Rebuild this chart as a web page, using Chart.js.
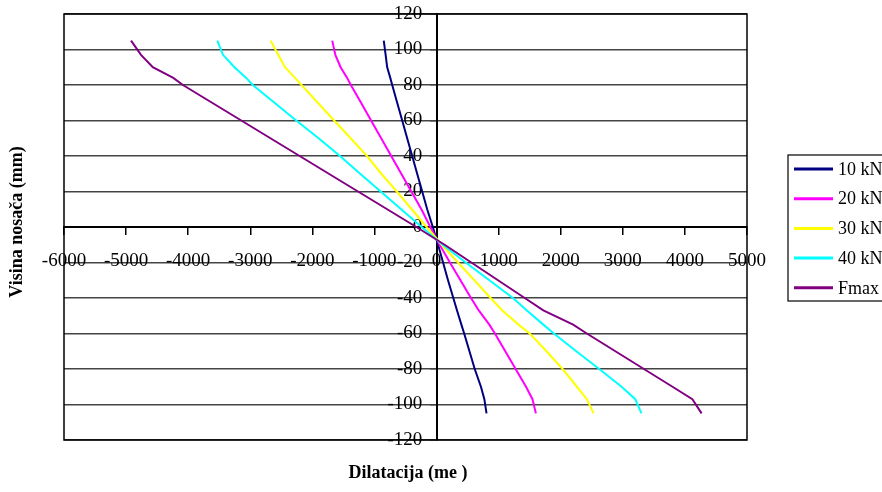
<!DOCTYPE html>
<html>
<head>
<meta charset="utf-8">
<script src="https://cdn.jsdelivr.net/npm/chart.js@4/dist/chart.umd.min.js"></script>
<style>
  body { margin: 0; background: #fff; overflow: hidden; }
  canvas { display: block; }
</style>
</head>
<body>
<canvas id="c" width="882" height="492"></canvas>
<script>
// visina nosaca (mm) - ista za sve serije
const visina = [105, 97, 90, 84, 80, 70, 60, 50, 40, 30, 20, 10, 0, -10, -20, -30, -40, -47, -55, -60, -70, -80, -90, -97, -105];

// dilatacije po seriji
const dil10kN = [-850, -820, -795, -745, -714, -634, -553, -473, -392, -312, -231, -151, -60, 25, 105, 185, 270, 330, 400, 445, 530, 615, 715, 770, 805];
const dil20kN = [-1680, -1630, -1545, -1440, -1380, -1216, -1054, -892, -730, -568, -406, -244, -100, 50, 215, 385, 555, 680, 850, 940, 1107, 1274, 1441, 1545, 1600];
const dil30kN = [-2672, -2550, -2440, -2280, -2175, -1912, -1650, -1384, -1120, -890, -640, -400, -160, 85, 345, 610, 870, 1060, 1320, 1500, 1770, 2030, 2260, 2420, 2530];
const dil40kN = [-3531, -3440, -3255, -3065, -2960, -2610, -2260, -1900, -1556, -1230, -900, -570, -240, 100, 470, 850, 1230, 1455, 1720, 1890, 2250, 2620, 2980, 3200, 3300];
const dilFmax = [-4920, -4760, -4570, -4240, -4085, -3615, -3145, -2675, -2205, -1735, -1265, -795, -325, 130, 560, 990, 1420, 1720, 2200, 2420, 2880, 3340, 3800, 4120, 4269];

const serije = ['10 kN', '20 kN', '30 kN', '40 kN', 'Fmax'];
const boje = ['#000080', '#FF00FF', '#FFFF00', '#00FFFF', '#800080'];
const vrijednosti = [dil10kN, dil20kN, dil30kN, dil40kN, dilFmax];

const FONT = 'Liberation Serif, Times New Roman, serif';

const okvir = {
  id: 'okvir',
  afterDraw(chart) {
    const ctx = chart.ctx;
    const a = chart.chartArea;
    ctx.save();
    ctx.strokeStyle = '#000';
    ctx.lineWidth = 1.5;
    ctx.strokeRect(a.left, a.top, a.right - a.left, a.bottom - a.top);

    // naslovi osi
    ctx.fillStyle = '#000';
    ctx.font = 'bold 18px ' + FONT;
    ctx.textAlign = 'center';
    ctx.textBaseline = 'middle';
    ctx.fillText('Dilatacija (me )', 408, 473);
    ctx.save();
    ctx.translate(17, 222);
    ctx.rotate(-Math.PI / 2);
    ctx.fillText('Visina nosača (mm)', 0, 0);
    ctx.restore();

    // legenda
    const lx = 788, ly = 155, lh = 146;
    ctx.lineWidth = 1.2;
    ctx.strokeRect(lx, ly, 140, lh);
    ctx.font = '18px ' + FONT;
    ctx.textAlign = 'left';
    chart.data.datasets.forEach((ds, i) => {
      const y = 169 + i * 29.7;
      ctx.strokeStyle = ds.borderColor;
      ctx.lineWidth = 3;
      ctx.beginPath();
      ctx.moveTo(794, y);
      ctx.lineTo(833, y);
      ctx.stroke();
      ctx.fillText(ds.label, 838, y + 1);
    });
    ctx.restore();
  }
};

new Chart(document.getElementById('c'), {
  type: 'scatter',
  data: {
    datasets: serije.map((s, i) => ({
      label: s,
      data: visina.map((v, j) => ({ x: vrijednosti[i][j], y: v })),
      showLine: true,
      borderColor: boje[i],
      backgroundColor: boje[i],
      borderWidth: 2,
      pointRadius: 0,
      tension: 0,
      order: 5 - i
    }))
  },
  options: {
    responsive: false,
    animation: false,
    layout: { padding: { left: 64, right: 135, top: 14, bottom: 52 } },
    plugins: { legend: { display: false }, tooltip: { enabled: false } },
    scales: {
      x: {
        type: 'linear',
        min: -6000, max: 5000,
        position: { y: 0 },
        border: { color: '#000', width: 2 },
        grid: { drawOnChartArea: false, drawTicks: true, tickLength: 7, color: '#000', lineWidth: 1.5 },
        ticks: {
          stepSize: 1000, autoSkip: false, maxRotation: 0, padding: 16, color: '#000',
          font: { family: FONT, size: 19 },
          callback: v => String(v)
        }
      },
      y: {
        type: 'linear',
        min: -120, max: 120,
        position: { x: 0 },
        border: { color: '#000', width: 2 },
        grid: { drawOnChartArea: true, drawTicks: true, tickLength: 6, color: '#444', lineWidth: 1.5 },
        ticks: {
          stepSize: 20, autoSkip: false, padding: 0, color: '#000',
          font: { family: FONT, size: 19 },
          callback: v => String(v) + '   '
        }
      }
    }
  },
  plugins: [okvir]
});
</script>
</body>
</html>
